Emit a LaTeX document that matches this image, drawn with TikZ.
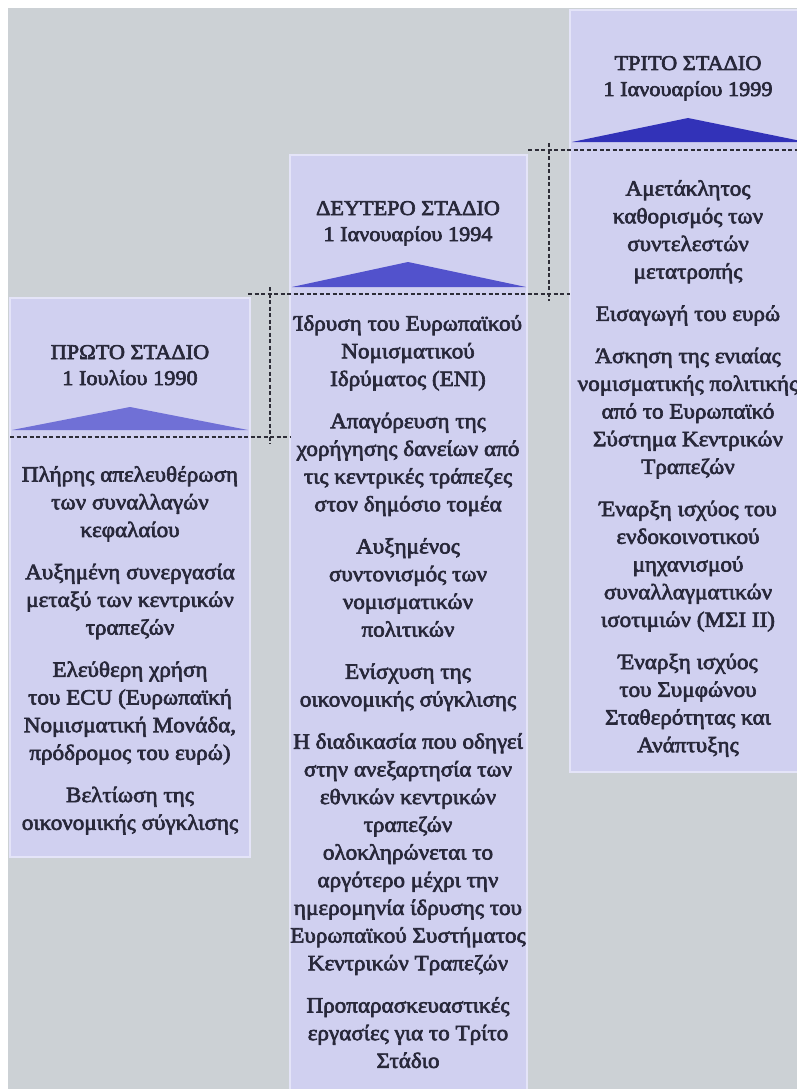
\documentclass[tikz,border=0pt]{standalone}
\usepackage{fontspec}
\setmainfont{Liberation Serif}
\newfontfamily\stagefont{Liberation Serif}[FakeStretch=1.06,FakeBold=3]
\definecolor{bggray}{RGB}{204,209,213}
\definecolor{boxfill}{RGB}{208,208,240}
\definecolor{boxedge}{RGB}{228,228,248}
\definecolor{triA}{RGB}{112,112,214}
\definecolor{triB}{RGB}{82,82,204}
\definecolor{triC}{RGB}{50,50,184}
\definecolor{txt}{RGB}{40,40,58}
\definecolor{dashc}{RGB}{45,45,55}
\tikzset{
  stagebox/.style={fill=boxfill, draw=boxedge, line width=1.2pt},
  headtxt/.style={anchor=base, inner sep=0pt, text=txt, font=\stagefont\fontsize{21}{25}\selectfont},
  bodytxt/.style={anchor=north, inner sep=0pt, align=center, text=txt, font=\stagefont\fontsize{21.8}{27.7}\selectfont},
  guide/.style={draw=dashc, line width=1.6pt, dash pattern=on 4pt off 2.5pt},
}
\begin{document}
\begin{tikzpicture}[x=1pt,y=-1pt]
\useasboundingbox (0,0) rectangle (797,1089);
\clip (0,0) rectangle (797,1089);
\fill[white] (0,0) rectangle (797,1089);
\fill[bggray] (8,8) rectangle (797,1089);
% boxes
\draw[stagebox] (10,298) rectangle (250,857);
\draw[stagebox] (290,155) rectangle (527,1095);
\draw[stagebox] (570,10) rectangle (810,772);
% triangles
\fill[triA] (12,430) -- (130,407) -- (248,430) -- cycle;
\fill[triB] (292,287) -- (408,262) -- (526,287) -- cycle;
\fill[triC] (572,142) -- (688,118) -- (806,142) -- cycle;
% headers
\node[headtxt] (h1a) at (130,359) {ΠΡΩΤΟ ΣΤΑΔΙΟ};
\node[headtxt] (h1b) at (130,385) {1 Ιουλίου 1990};
\node[headtxt] (h2a) at (408,215) {ΔΕΥΤΕΡΟ ΣΤΑΔΙΟ};
\node[headtxt] (h2b) at (408,241) {1 Ιανουαρίου 1994};
\node[headtxt] (h3a) at (688,70) {ΤΡΙΤΟ ΣΤΑΔΙΟ};
\node[headtxt] (h3b) at (688,96) {1 Ιανουαρίου 1999};
% bodies
\node[bodytxt] (b1) at (130,466) {Πλήρης απελευθέρωση\\των συναλλαγών\\κεφαλαίου\\[14.5pt]
Αυξημένη συνεργασία\\μεταξύ των κεντρικών\\τραπεζών\\[14.5pt]
Ελεύθερη χρήση\\του ECU (Ευρωπαϊκή\\Νομισματική Μονάδα,\\πρόδρομος του ευρώ)\\[14.5pt]
Βελτίωση της\\οικονομικής σύγκλισης};
\node[bodytxt] (b2) at (408,315) {Ίδρυση του Ευρωπαϊκού\\Νομισματικού\\Ιδρύματος (ΕΝΙ)\\[14.5pt]
Απαγόρευση της\\χορήγησης δανείων από\\τις κεντρικές τράπεζες\\στον δημόσιο τομέα\\[14.5pt]
Αυξημένος\\συντονισμός των\\νομισματικών\\πολιτικών\\[14.5pt]
Ενίσχυση της\\οικονομικής σύγκλισης\\[14.5pt]
Η διαδικασία που οδηγεί\\στην ανεξαρτησία των\\εθνικών κεντρικών\\τραπεζών\\ολοκληρώνεται το\\αργότερο μέχρι την\\ημερομηνία ίδρυσης του\\Ευρωπαϊκού Συστήματος\\Κεντρικών Τραπεζών\\[14.5pt]
Προπαρασκευαστικές\\εργασίες για το Τρίτο\\Στάδιο};
\node[bodytxt] (b3) at (688,180) {Αμετάκλητος\\καθορισμός των\\συντελεστών\\μετατροπής\\[14.5pt]
Εισαγωγή του ευρώ\\[14.5pt]
Άσκηση της ενιαίας\\νομισματικής πολιτικής\\από το Ευρωπαϊκό\\Σύστημα Κεντρικών\\Τραπεζών\\[14.5pt]
Έναρξη ισχύος του\\ενδοκοινοτικού\\μηχανισμού\\συναλλαγματικών\\ισοτιμιών (ΜΣΙ ΙΙ)\\[14.5pt]
Έναρξη ισχύος\\του Συμφώνου\\Σταθερότητας και\\Ανάπτυξης};
% dashed guide lines
\coordinate (g1l) at (10,437);
\coordinate (g1r) at (290,437);
\coordinate (g2l) at (248,294);
\coordinate (g2r) at (570,294);
\coordinate (g3l) at (528,150);
\coordinate (g3r) at (797,150);
\coordinate (v1t) at (270,287);
\coordinate (v1b) at (270,444);
\coordinate (v2t) at (549,143);
\coordinate (v2b) at (549,301);
\draw[guide] (g1l) -- (g1r);
\draw[guide] (g2l) -- (g2r);
\draw[guide] (g3l) -- (g3r);
\draw[guide] (v1t) -- (v1b);
\draw[guide] (v2t) -- (v2b);
\end{tikzpicture}
\end{document}
